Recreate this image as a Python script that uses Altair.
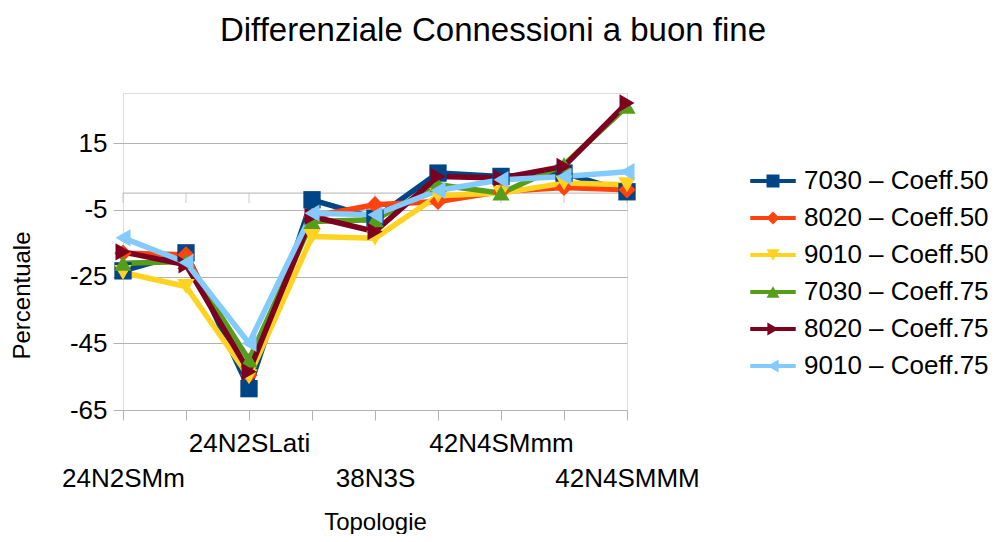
import json
import altair as alt
import pandas as pd

categories = ["24N2SMm", "24N2SMM", "24N2SLati", "38N3SMm", "38N3S",
              "38N3SLati", "42N4SMmm", "42N4SLati", "42N4SMMM"]
series = ["7030 – Coeff.50", "8020 – Coeff.50", "9010 – Coeff.50",
          "7030 – Coeff.75", "8020 – Coeff.75", "9010 – Coeff.75"]
colors = ["#004586", "#ff420e", "#ffd320", "#579d1c", "#7e0021", "#83caff"]
shapes = ["square", "diamond", "triangle-down", "triangle-up",
          "triangle-right", "triangle-left"]

v7030_50 = [-23.3, -17.9, -58.6, -2.0, -7.5, 6.0, 5.0, 6.0, 0.4]
v8020_50 = [-18.0, -18.5, -54.5, -7.0, -3.5, -2.5, 0.5, 1.7, 1.0]
v9010_50 = [-23.8, -28.0, -55.0, -13.0, -13.5, -0.8, 0.0, 3.0, 2.5]
v7030_75 = [-21.0, -20.5, -50.0, -8.5, -8.0, 2.5, 0.0, 8.5, 26.0]
v8020_75 = [-17.6, -21.5, -53.5, -7.0, -11.5, 5.0, 4.5, 8.0, 27.0]
v9010_75 = [-13.4, -20.8, -45.0, -6.0, -6.5, 0.8, 4.0, 5.0, 6.4]
values = [v7030_50, v8020_50, v9010_50, v7030_75, v8020_75, v9010_75]

y_ticks = [-65, -45, -25, -5, 15]
y_domain = [-65, 30]

# hidden twin of the series names, so the line legend stays separate from the marker legend
ZW = "\u200b"
series_line = [s + ZW for s in series]

rows = []
for s, sl, vals in zip(series, series_line, values):
    for i, (c, v) in enumerate(zip(categories, vals)):
        rows.append({"serie": s, "serie_l": sl, "idx": i, "cat": c, "val": v})
df = pd.DataFrame(rows)
df_cats = pd.DataFrame({"idx": list(range(len(categories))), "cat": categories})

FONT = "Liberation Sans"
GRID = "#b3b3b3"
W, H = 504, 317
LX, LY = 637, 75

cats_js = json.dumps(categories)
x_scale = alt.Scale(domain=[0, len(categories) - 1], nice=False, zero=False)
y_scale = alt.Scale(domain=y_domain, nice=False, zero=False)

x_axis = alt.Axis(
    title="Topologie", values=list(range(len(categories))),
    labelExpr=f"datum.value % 2 == 0 ? {cats_js}[datum.value] : ''",
    labelPadding={"condition": {"test": "datum.value % 4 == 0", "value": 45}, "value": 10},
    labelOverlap=False, labelFlush=False, labelBound=False,
    labelFont=FONT, labelFontSize=26, labelColor="black", labelBaseline="top",
    titleFont=FONT, titleFontSize=24, titleFontWeight="normal", titleColor="black",
    titlePadding=19, grid=False, domain=False,
    tickColor=GRID, tickSize=10, tickWidth=1,
)
y_axis = alt.Axis(
    title="Percentuale", values=y_ticks, labelExpr="'' + datum.value",
    labelFont=FONT, labelFontSize=26, labelColor="black", labelPadding=6,
    titleFont=FONT, titleFontSize=24, titleFontWeight="normal", titleColor="black",
    titleAngle=270, titleX=-101, titleY=202, titleAlign="center", titleBaseline="middle",
    grid=True, gridColor=GRID, gridWidth=1, domain=False,
    tickColor=GRID, tickSize=10, tickWidth=1,
)

base = alt.Chart(df)

lines = base.mark_line(strokeWidth=5.5, strokeJoin="round").encode(
    x=alt.X("idx:Q", scale=x_scale, axis=x_axis),
    y=alt.Y("val:Q", scale=y_scale, axis=y_axis),
    stroke=alt.Stroke("serie_l:N", scale=alt.Scale(domain=series_line, range=colors),
                      legend=alt.Legend(
                          title=None, orient="none", legendX=LX, legendY=LY,
                          symbolType="M-3.5,0H3.5", symbolSize=169, symbolStrokeWidth=4,
                          labelFont=FONT, labelFontSize=26, labelOpacity=0,
                          labelExpr="' '",
                          labelOffset=18, labelLimit=400, rowPadding=11, padding=0)),
    order=alt.Order("idx:Q"),
)

points = base.mark_point(filled=True, size=300, opacity=1, strokeWidth=0).encode(
    x=alt.X("idx:Q", scale=x_scale, axis=x_axis),
    y=alt.Y("val:Q", scale=y_scale, axis=y_axis),
    fill=alt.Fill("serie:N", scale=alt.Scale(domain=series, range=colors),
                  legend=alt.Legend(
                      title=None, orient="none", legendX=LX, legendY=LY,
                      symbolSize=169, symbolStrokeWidth=0, symbolOpacity=1,
                      labelFont=FONT, labelFontSize=26, labelColor="black",
                      labelOffset=18, labelLimit=400, rowPadding=11, padding=0)),
    shape=alt.Shape("serie:N", scale=alt.Scale(domain=series, range=shapes)),
)

zero_line = alt.Chart(pd.DataFrame({"z": [0]})).mark_rule(color=GRID, strokeWidth=1).encode(
    y=alt.Y("z:Q", scale=y_scale, axis=y_axis)
)
zero_ticks = alt.Chart(df_cats).mark_tick(
    orient="vertical", size=10, thickness=1, color=GRID, yOffset=5
).encode(
    x=alt.X("idx:Q", scale=x_scale, axis=x_axis),
    y=alt.datum(0),
)

chart = alt.layer(zero_line, zero_ticks, lines, points).properties(
    width=W, height=H,
    title=alt.TitleParams(
        "Differenziale Connessioni a buon fine", font=FONT, fontSize=33,
        fontWeight="normal", color="black", anchor="middle", frame="group",
        dx=118, offset=19, baseline="alphabetic"),
    autosize=alt.AutoSizeParams(type="none"),
    padding={"left": 115, "top": 85, "right": 367, "bottom": 124},
).configure_view(stroke=GRID, strokeWidth=1).configure(background="white")

chart.save("out.html", embed_options={"renderer": "svg", "actions": False})
